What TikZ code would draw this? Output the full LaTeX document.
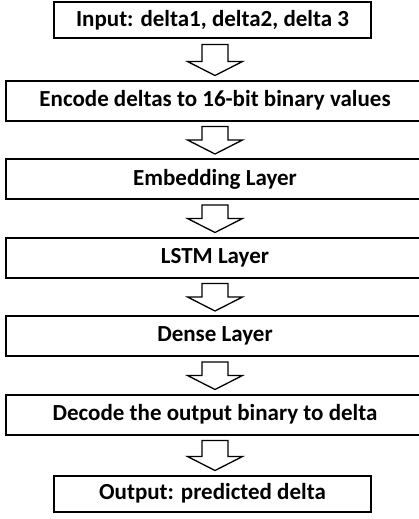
\documentclass[tikz,border=0pt]{standalone}
\usepackage{fontspec}
\setmainfont{Carlito}
\usepackage{tikz}
\usetikzlibrary{positioning, calc}

\begin{document}
\begin{tikzpicture}[
  x=1pt, y=1pt,
  node distance=38.5pt, % gap between the layer boxes
  narrowbox/.style={rectangle, draw, line width=2pt, align=center, minimum width=317pt, minimum height=36pt, inner sep=0pt, outer sep=0pt, font=\bfseries\fontsize{23}{27}\selectfont},
  widebox/.style={narrowbox, minimum width=418pt, minimum height=40pt},
  blockarrow/.style={draw, fill=white, line width=1.3pt, line join=miter,
    to path={($(\tikztostart.south -| encode)+(-13,-6)$) -- ++(26,0)
      -- ($(\tikztotarget.north -| encode)+(13,19)$) -- ++(14.5,0)
      -- ($(\tikztotarget.north -| encode)+(0,5)$)
      -- ($(\tikztotarget.north -| encode)+(-27.5,19)$) -- ++(14.5,0) -- cycle}}
]
\useasboundingbox (0,0) rectangle (419,-519);
\clip (0,0) rectangle (419,-519);

% Input and encoding
\node[narrowbox] (input) at (212.5,-20.5) {Input: delta1, delta2, delta 3};
\node[widebox, below=42pt of input, xshift=2.5pt] (encode) {Encode deltas to 16-bit binary values};

% Network layers
\node[widebox, below=of encode] (embed) {Embedding Layer};
\node[widebox, below=of embed] (lstm) {LSTM Layer};
\node[widebox, below=of lstm] (dense) {Dense Layer};

% Decoding and output
\node[widebox, below=of dense] (decode) {Decode the output binary to delta};
\node[narrowbox, below=41pt of decode, xshift=-2.5pt] (output) {Output: predicted delta};

% Block arrows
\draw[blockarrow] (input) to (encode);
\draw[blockarrow] (encode) to (embed);
\draw[blockarrow] (embed) to (lstm);
\draw[blockarrow] (lstm) to (dense);
\draw[blockarrow] (dense) to (decode);
\draw[blockarrow] (decode) to (output);

\end{tikzpicture}
\end{document}
